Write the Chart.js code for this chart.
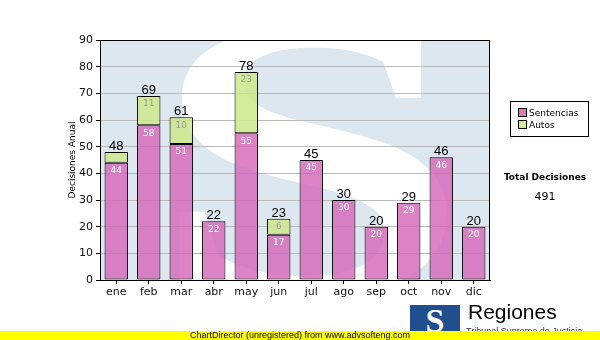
<!DOCTYPE html>
<html lang="es">
<head>
<meta charset="UTF-8" />
<title>Decisiones Anual</title>
<script src="https://cdn.jsdelivr.net/npm/chart.js"></script>
<style>
body { margin: 0; padding: 0; background: #fff; font-family: 'DejaVu Sans', sans-serif; }
.wrap { position: relative; width: 600px; height: 340px; overflow: hidden; }
canvas { position: absolute; left: 0; top: 0; }
.legend {
  position: absolute; left: 510px; top: 101px; width: 77px; height: 34px;
  border: 1px solid #000; font-size: 9px; color: #000;
}
.legend div { position: absolute; left: 7px; white-space: nowrap; }
.legend span {
  display: inline-block; width: 7px; height: 7px; border: 1px solid #000;
  margin-right: 2px; vertical-align: -1px;
}
.total { position: absolute; left: 495px; width: 100px; text-align: center; font-size: 9px; }
.logo {
  position: absolute; left: 410px; top: 305px; width: 50px; height: 30px;
  background: #1f4f8f; color: #fff; font: bold 34px 'Liberation Serif', serif;
  text-align: center; line-height: 32px; overflow: hidden;
}
.brand { position: absolute; left: 468px; top: 300px; font: 21px 'Liberation Sans', sans-serif; color: #000; }
.brand-sub { position: absolute; left: 466px; top: 326px; font: 9px 'Liberation Sans', sans-serif; color: #333; white-space: nowrap; }
.footer {
  position: absolute; left: 0; top: 331px; width: 600px; height: 9px; background: #ffff00;
  font: 9px 'Liberation Sans', sans-serif; color: #000; line-height: 9px;
}
.footer div { position: absolute; left: 190px; top: 0; white-space: nowrap; }
</style>
</head>
<body>
<div class="wrap">
  <canvas id="chart" width="600" height="340"></canvas>
  <div class="legend">
    <div style="top:6px"><span style="background:#dc7cc0"></span>Sentencias</div>
    <div style="top:18px"><span style="background:#d4ea99"></span>Autos</div>
  </div>
  <div class="total" style="top:172px;font-weight:bold">Total Decisiones</div>
  <div class="total" id="total" style="top:190px;font-size:11px"></div>
  <div class="logo">S</div>
  <div class="brand">Regiones</div>
  <div class="brand-sub">Tribunal Supremo de Justicia</div>
  <div class="footer"><div>ChartDirector (unregistered) from www.advsofteng.com</div></div>
</div>

<script>
const months = ['ene', 'feb', 'mar', 'abr', 'may', 'jun', 'jul', 'ago', 'sep', 'oct', 'nov', 'dic'];
const sentencias = [44, 58, 51, 22, 55, 17, 45, 30, 20, 29, 46, 20];
const autos = [4, 11, 10, 0, 23, 6, 0, 0, 0, 0, 0, 0];
const yTicks = [0, 10, 20, 30, 40, 50, 60, 70, 80, 90];

const totals = months.map((m, i) => sentencias[i] + autos[i]);
document.getElementById('total').textContent = totals.reduce((a, b) => a + b, 0);

// light blue plot background with the big white "S" watermark
const plotBackground = {
  id: 'plotBackground',
  beforeDraw(chart) {
    const {ctx, chartArea: a} = chart;
    ctx.save();
    ctx.fillStyle = '#dde7f0';
    ctx.fillRect(a.left, a.top, a.right - a.left, a.bottom - a.top);
    ctx.beginPath();
    ctx.rect(a.left, a.top, a.right - a.left, a.bottom - a.top);
    ctx.clip();
    ctx.translate(310, 292);
    ctx.scale(1.45, 1);
    ctx.fillStyle = '#ffffff';
    ctx.font = 'bold 400px "Liberation Serif"';
    ctx.textAlign = 'center';
    ctx.fillText('S', 0, 0);
    ctx.restore();
  },
  afterDraw(chart) {
    const {ctx, chartArea: a} = chart;
    ctx.save();
    ctx.strokeStyle = '#000';
    ctx.lineWidth = 1;
    ctx.strokeRect(a.left + 0.5, a.top + 0.5, a.right - a.left - 1, a.bottom - a.top);
    ctx.restore();
  }
};

const barLabels = {
  id: 'barLabels',
  afterDatasetsDraw(chart) {
    const {ctx} = chart;
    const m0 = chart.getDatasetMeta(0);
    const m1 = chart.getDatasetMeta(1);
    ctx.save();
    ctx.textAlign = 'center';
    ctx.textBaseline = 'middle';
    ctx.font = '9px "DejaVu Sans"';
    m0.data.forEach((bar, i) => {
      ctx.fillStyle = '#ffffff';
      ctx.fillText(sentencias[i], bar.x, bar.y + 8);
      const b = m1.data[i];
      // segment too short for a label
      if (b.base - b.y >= 14) {
        ctx.fillStyle = '#9a9a9a';
        ctx.fillText(autos[i], b.x, b.y + 8);
      }
    });
    ctx.font = '13px "Liberation Sans"';
    ctx.fillStyle = '#000';
    ctx.textBaseline = 'alphabetic';
    m0.data.forEach((bar, i) => {
      const top = autos[i] > 0 ? m1.data[i].y : bar.y;
      ctx.fillText(totals[i], bar.x, top - 2);
    });
    ctx.restore();
  }
};

new Chart(document.getElementById('chart'), {
  type: 'bar',
  data: {
    labels: months,
    datasets: [
      {
        label: 'Sentencias',
        data: sentencias,
        backgroundColor: 'rgba(212,104,184,0.82)',
        borderColor: '#000',
        borderWidth: 1,
        borderSkipped: false
      },
      {
        label: 'Autos',
        data: autos,
        backgroundColor: 'rgba(205,232,140,0.85)',
        borderColor: '#000',
        borderWidth: c => (c.raw ? 1 : 0),
        borderSkipped: false
      }
    ]
  },
  options: {
    responsive: false,
    animation: false,
    events: [],
    layout: { padding: { left: 67, right: 110, top: 40, bottom: 0 } },
    datasets: { bar: { categoryPercentage: 1, barPercentage: 0.72 } },
    plugins: { legend: { display: false }, tooltip: { enabled: false } },
    scales: {
      x: {
        stacked: true,
        afterFit: s => { s.height = 60; },
        grid: { display: true, drawOnChartArea: false, offset: false, tickLength: 4, color: '#000' },
        border: { color: '#000' },
        ticks: { color: '#111', font: { family: 'DejaVu Sans', size: 11 }, padding: 2, maxRotation: 0 }
      },
      y: {
        stacked: true,
        min: 0,
        max: 90,
        afterFit: s => { s.width = 33; },
        afterBuildTicks: s => { s.ticks = yTicks.map(v => ({ value: v })); },
        grid: { color: '#bbbbbb', tickColor: '#000', tickLength: 4 },
        border: { color: '#000' },
        ticks: { color: '#111', font: { family: 'DejaVu Sans', size: 11 }, padding: 3 },
        title: { display: true, text: 'Decisiones Anual', color: '#000', font: { family: 'DejaVu Sans', size: 9 }, padding: 0 }
      }
    }
  },
  plugins: [plotBackground, barLabels]
});
</script>
</body>
</html>
